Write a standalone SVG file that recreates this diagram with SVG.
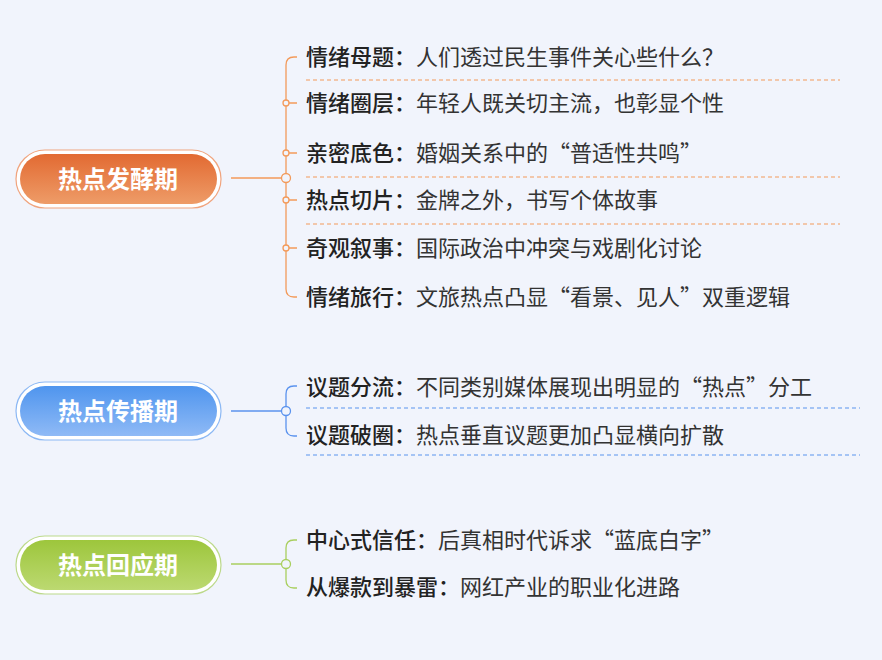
<svg xmlns="http://www.w3.org/2000/svg" width="882" height="660" viewBox="0 0 882 660">
<defs>
<linearGradient id="go" x1="0" y1="0" x2="0" y2="1"><stop offset="0" stop-color="#e26a32"/><stop offset="1" stop-color="#ee9c68"/></linearGradient>
<linearGradient id="gb" x1="0" y1="0" x2="0" y2="1"><stop offset="0" stop-color="#4f95ee"/><stop offset="1" stop-color="#8fbaf6"/></linearGradient>
<linearGradient id="gg" x1="0" y1="0" x2="0" y2="1"><stop offset="0" stop-color="#9dc63c"/><stop offset="1" stop-color="#bcd971"/></linearGradient>
<style>
.t{font-family:"Noto Sans CJK SC",sans-serif;font-size:22px;fill:#333;text-spacing-trim:space-all;font-variant-east-asian:full-width}
.k{font-weight:500;fill:#222}
.p{font-family:"Noto Sans CJK SC",sans-serif;font-size:24px;font-weight:bold;fill:#fff;text-anchor:middle}
.d{stroke-dasharray:4 3;stroke-width:1.2}
</style>
</defs>
<rect width="882" height="660" fill="#f1f4fc"/>
<g id="connectors">
<g stroke="#f39a5a" fill="none" stroke-width="1.3">
<path d="M231 178H282"/>
<path d="M297 57H294Q286 57 286 65V289Q286 297 294 297H297"/>
<path d="M286 103H297M286 153H297M286 200H297M286 248H297"/>
<path class="d" d="M306 80H840M306 177H840M306 224H840"/>
<circle cx="286" cy="178" r="4.5" fill="#f1f4fc"/>
<circle cx="286" cy="103" r="3" fill="#f1f4fc"/><circle cx="286" cy="153" r="3" fill="#f1f4fc"/><circle cx="286" cy="200" r="3" fill="#f1f4fc"/><circle cx="286" cy="248" r="3" fill="#f1f4fc"/>
</g>
<g stroke="#5b93ee" fill="none" stroke-width="1.3">
<path d="M231 411H282"/>
<path d="M297 386H294Q286 386 286 394V428Q286 436 294 436H297"/>
<path class="d" d="M306 408H860M306 455H860"/>
<circle cx="286" cy="411" r="4.5" fill="#f1f4fc"/>
</g>
<g stroke="#a9cf5f" fill="none" stroke-width="1.3">
<path d="M231 564H282"/>
<path d="M297 540H294Q286 540 286 548V580Q286 588 294 588H297"/>
<circle cx="286" cy="564" r="4.5" fill="#f1f4fc"/>
</g>
</g>
<g id="n1"><rect x="16" y="150" width="205" height="58" rx="29" fill="#fff" stroke="#f0a47e" stroke-width="1.2"/><rect x="20" y="154" width="197" height="50" rx="25" fill="url(#go)"/><text class="p" x="118" y="188">热点发酵期</text></g>
<g id="n2"><rect x="16" y="382" width="205" height="58" rx="29" fill="#fff" stroke="#8cb8f4" stroke-width="1.2"/><rect x="20" y="386" width="197" height="50" rx="25" fill="url(#gb)"/><text class="p" x="118" y="420">热点传播期</text></g>
<g id="n3"><rect x="16" y="536" width="205" height="58" rx="29" fill="#fff" stroke="#bcd98a" stroke-width="1.2"/><rect x="20" y="540" width="197" height="50" rx="25" fill="url(#gg)"/><text class="p" x="118" y="574">热点回应期</text></g>
<g id="items">
<text class="t" x="306" y="65"><tspan class="k">情绪母题：</tspan>人们透过民生事件关心些什么？</text>
<text class="t" x="306" y="111"><tspan class="k">情绪圈层：</tspan>年轻人既关切主流，也彰显个性</text>
<text class="t" x="306" y="161"><tspan class="k">亲密底色：</tspan>婚姻关系中的“普适性共鸣”</text>
<text class="t" x="306" y="208"><tspan class="k">热点切片：</tspan>金牌之外，书写个体故事</text>
<text class="t" x="306" y="256"><tspan class="k">奇观叙事：</tspan>国际政治中冲突与戏剧化讨论</text>
<text class="t" x="306" y="305"><tspan class="k">情绪旅行：</tspan>文旅热点凸显“看景、见人”双重逻辑</text>
<text class="t" x="306" y="395"><tspan class="k">议题分流：</tspan>不同类别媒体展现出明显的“热点”分工</text>
<text class="t" x="306" y="443"><tspan class="k">议题破圈：</tspan>热点垂直议题更加凸显横向扩散</text>
<text class="t" x="306" y="548"><tspan class="k">中心式信任：</tspan>后真相时代诉求“蓝底白字”</text>
<text class="t" x="306" y="595"><tspan class="k">从爆款到暴雷：</tspan>网红产业的职业化进路</text>
</g>
</svg>
